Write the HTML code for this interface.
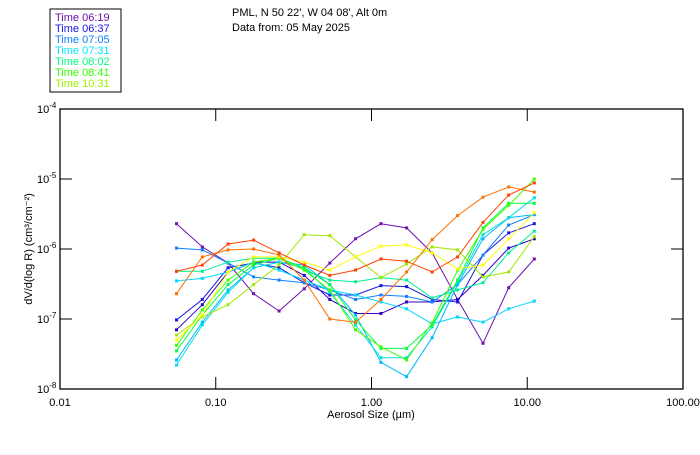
<!DOCTYPE html>
<html><head><meta charset="utf-8"><style>
body{margin:0;background:#fff;width:700px;height:450px;overflow:hidden;font-family:"Liberation Sans",sans-serif}
svg text{font-family:"Liberation Sans",sans-serif;font-size:11px}
</style></head><body>
<svg id="chart" width="700" height="450" viewBox="0 0 700 450" xmlns="http://www.w3.org/2000/svg">
<rect x="50" y="9" width="71" height="83" fill="#fff" stroke="#000"/>
<g id="legend"></g>
<text x="232" y="16">PML, N 50 22', W 04 08', Alt 0m</text>
<text x="232" y="31">Data from: 05 May 2025</text>
<g id="axes"></g>
<g id="series"></g>
<text x="371" y="418" text-anchor="middle">Aerosol Size (µm)</text>
<text transform="translate(32,249) rotate(-90)" text-anchor="middle">dV/d(log R) (cm³/cm⁻²)</text>
</svg>
<script>
const sizes=[0.056,0.082,0.12,0.175,0.255,0.37,0.54,0.79,1.15,1.68,2.45,3.57,5.2,7.6,11.1];
const xTicks=[0.01,0.1,1,10,100];
const xTickLabels=["0.01","0.10","1.00","10.00","100.00"];
const yTicks=[1e-4,1e-5,1e-6,1e-7,1e-8];
const yTickExp=["-4","-5","-6","-7","-8"];
const legendLabels=["Time 06:19","Time 06:37","Time 07:05","Time 07:31","Time 08:02","Time 08:41","Time 10:31"];
const legendColors=["#7010b0","#1818e0","#1080ff","#00e8ff","#00ff80","#30ff00","#a0f000"];
const sA=[2.3e-6,1.07e-6,6.3e-7,2.3e-7,1.3e-7,2.7e-7,6.3e-7,1.4e-6,2.3e-6,2.0e-6,8.8e-7,1.9e-7,4.5e-8,2.8e-7,7.2e-7];
const sB=[4.8e-7,5.9e-7,1.18e-6,1.34e-6,8.8e-7,5.9e-7,4.2e-7,5.0e-7,7.2e-7,6.7e-7,4.7e-7,7.7e-7,2.4e-6,5.9e-6,8.8e-6];
const sC=[2.3e-7,7.7e-7,9.7e-7,1.0e-6,8.2e-7,3.6e-7,1.0e-7,9.0e-8,1.9e-7,4.7e-7,1.36e-6,3.0e-6,5.5e-6,7.7e-6,6.5e-6];
const sD=[5.9e-8,1.07e-7,1.6e-7,3.1e-7,5.9e-7,1.6e-6,1.55e-6,7.7e-7,3.9e-7,6.1e-7,1.07e-6,9.7e-7,4.0e-7,4.7e-7,1.5e-6];
const sE=[5.0e-8,1.14e-7,4.7e-7,7.7e-7,7.7e-7,6.5e-7,5.0e-7,7.7e-7,1.1e-6,1.14e-6,8.8e-7,5.2e-7,5.9e-7,1.4e-6,3.3e-6];
const sF=[4.2e-8,1.35e-7,3.6e-7,6.5e-7,7.4e-7,5.0e-7,2.6e-7,7.0e-8,4.0e-8,2.6e-8,8.8e-8,5.0e-7,1.9e-6,4.2e-6,1.0e-5];
const sG=[3.5e-8,1.14e-7,3.1e-7,5.9e-7,7.4e-7,5.4e-7,3.1e-7,9.7e-8,3.8e-8,3.8e-8,8.2e-8,3.6e-7,2.0e-6,4.5e-6,4.5e-6];
const sH=[2.6e-8,9.0e-8,2.6e-7,5.4e-7,6.5e-7,5.9e-7,3.1e-7,1.14e-7,2.4e-8,1.5e-8,5.4e-8,3.1e-7,1.4e-6,2.8e-6,3.1e-6];
const sI=[2.2e-8,8.2e-8,2.4e-7,5.4e-7,6.5e-7,5.4e-7,2.4e-7,8.2e-8,2.8e-8,2.8e-8,7.7e-8,3.4e-7,1.6e-6,2.8e-6,5.4e-6];
const sJ=[3.5e-7,3.8e-7,4.7e-7,6.5e-7,5.0e-7,3.6e-7,2.6e-7,2.2e-7,1.75e-7,1.4e-7,8.5e-8,1.07e-7,9.0e-8,1.4e-7,1.8e-7];
const sK=[1.03e-6,9.7e-7,6.3e-7,4.0e-7,3.6e-7,3.3e-7,2.6e-7,1.9e-7,2.2e-7,2.1e-7,1.75e-7,3.1e-7,8.2e-7,2.2e-6,3.1e-6];
const sL=[9.7e-8,1.9e-7,5.4e-7,6.3e-7,5.4e-7,3.3e-7,2.2e-7,2.2e-7,3.0e-7,2.9e-7,1.9e-7,1.75e-7,8.2e-7,1.7e-6,2.3e-6];
const sM=[7.0e-8,1.6e-7,4.7e-7,6.5e-7,6.5e-7,4.2e-7,1.9e-7,1.2e-7,1.2e-7,1.75e-7,1.75e-7,1.9e-7,4.2e-7,1.03e-6,1.4e-6];
const sO=[4.8e-7,4.8e-7,6.5e-7,7.4e-7,7.4e-7,5.0e-7,3.6e-7,3.4e-7,3.9e-7,3.6e-7,2.0e-7,2.6e-7,3.3e-7,8.8e-7,1.8e-6];
const seriesList=[
 ["series-a",sA,"#7010b0"],["series-m",sM,"#3000c8"],["series-l",sL,"#1818e0"],["series-k",sK,"#1080ff"],
 ["series-h",sH,"#00b8ff"],["series-j",sJ,"#00d8ff"],["series-i",sI,"#00e0e0"],["series-o",sO,"#00f090"],
 ["series-g",sG,"#00ff40"],["series-f",sF,"#40ff00"],["series-d",sD,"#a0e800"],["series-e",sE,"#ffff00"],
 ["series-c",sC,"#ff7000"],["series-b",sB,"#ff4000"]];
const L=60,R=683,T=109,B=389;
const xs=v=>L+(Math.log10(v)+2)/4*(R-L);
const ys=v=>T+(-4-Math.log10(v))/4*(B-T);
const NS="http://www.w3.org/2000/svg";
function mk(tag,attrs,parent){const e=document.createElementNS(NS,tag);for(const k in attrs)e.setAttribute(k,attrs[k]);parent.appendChild(e);return e;}
const ax=document.getElementById('axes');
const frame=mk('rect',{x:L,y:T,width:R-L,height:B-T,fill:'none',stroke:'#000','stroke-width':1.3},ax);


xTicks.forEach((v,i)=>{const x=xs(v);
 const t=mk('line',{x1:x,x2:x,y1:B,y2:B-12,stroke:'#000'},ax);
 
 
 const t2=mk('line',{x1:x,x2:x,y1:T,y2:T+12,stroke:'#000'},ax);
 
 
 const lb=mk('text',{x:x,y:B+17,'text-anchor':'middle'},ax);lb.textContent=xTickLabels[i];
 
 
});
yTicks.forEach((v,i)=>{const y=ys(v);
 const t=mk('line',{x1:L,x2:L+12,y1:y,y2:y,stroke:'#000'},ax);
 
 
 const t2=mk('line',{x1:R,x2:R-12,y1:y,y2:y,stroke:'#000'},ax);
 
 
 const lb=mk('text',{x:37,y:y+4},ax);
 lb.innerHTML='10<tspan dy="-5" font-size="8">'+yTickExp[i]+'</tspan>';
 
 
});
const sg=document.getElementById('series');
seriesList.forEach(([name,vals,col])=>{
 const g=mk('g',{},sg);
 
 
 const pts=vals.map((v,i)=>xs(sizes[i]).toFixed(1)+','+ys(v).toFixed(1)).join(' ');
 const pl=mk('polyline',{points:pts,fill:'none',stroke:col,'stroke-width':1},g);
 
 
 vals.forEach((v,i)=>{const m=mk('rect',{x:xs(sizes[i])-1.5,y:ys(v)-1.5,width:3,height:3,fill:col},g);
  
  });
});
const lg=document.getElementById('legend');
legendLabels.forEach((t,i)=>{const e=mk('text',{x:55,y:21+i*11,fill:legendColors[i]},lg);e.textContent=t;
 
 });
</script>
</body></html>
